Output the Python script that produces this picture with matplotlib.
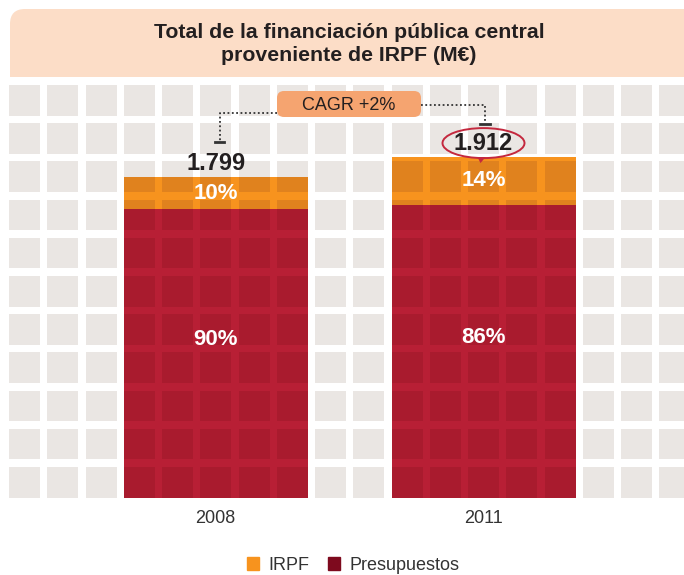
import matplotlib
matplotlib.use("Agg")
import matplotlib.pyplot as plt
from matplotlib.patches import Rectangle, FancyBboxPatch, Ellipse, Polygon, Patch
from matplotlib.collections import PatchCollection
import numpy as np

plt.rcParams['font.family'] = ['Liberation Sans', 'DejaVu Sans']

# ---------------- data ----------------
years = ["2008", "2011"]
totals = [1799, 1912]          # M€
irpf_share = [10, 14]          # %
presu_share = [90, 86]         # %
series_names = ["IRPF", "Presupuestos"]
title_lines = ["Total de la financiación pública central", "proveniente de IRPF (M€)"]

# ---------------- style ----------------
GRAY = "#EAE6E3"
PEACH = "#FCDDC7"
CAGR_BOX = "#F5A470"
RED_LIGHT = "#B81F35"
RED_DARK = "#A91B2E"
OR_LIGHT = "#F7931E"
OR_DARK = "#E0821E"
LEG_RED = "#7E0A1E"
TXT = "#231F20"

W, H = 684, 575
fig = plt.figure(figsize=(W / 100, H / 100), dpi=100)

# background (pixel coordinates)
bg = fig.add_axes([0, 0, 1, 1], zorder=0)
bg.set_xlim(0, W)
bg.set_ylim(H, 0)
bg.axis("off")

# title box with rounded top-left corner
bg.add_patch(FancyBboxPatch((10, 9), 720, 68, boxstyle="round,pad=0,rounding_size=15",
                            fc=PEACH, ec="none"))
bg.add_patch(Rectangle((10, 45), 720, 32, fc=PEACH, ec="none"))
bg.text(349, 38.5, title_lines[0], ha="center", va="baseline", fontsize=15.3,
        fontweight="bold", color=TXT)
bg.text(349, 61, title_lines[1], ha="center", va="baseline", fontsize=15.3,
        fontweight="bold", color=TXT)

# grid of squares
GX0, GPX, GW = 9, 38.25, 31
GY0, GPY, GH = 85, 38.2, 30.5
NCOL, NROW = 18, 11
cells = [(GX0 + c * GPX, GY0 + r * GPY) for r in range(NROW) for c in range(NCOL)]
bg.add_collection(PatchCollection([Rectangle(p, GW, GH) for p in cells],
                                  facecolor=GRAY, edgecolor="none"))

# ---------------- bars axes ----------------
bottom_px, top_px = 497.5, 85
ax = fig.add_axes([GX0 / W, (H - bottom_px) / H, (W - GX0) / W, (bottom_px - top_px) / H], zorder=1)
ax.patch.set_alpha(0)
for s in ax.spines.values():
    s.set_visible(False)
c0, c1 = 215.75, 483.5
upx = c1 - c0
ax.set_xlim(-(c0 - GX0) / upx, 1 + (W - c1) / upx)
ax.set_ylim(0, 2317)
ax.set_yticks([])

x = np.arange(len(years))
tot = np.array(totals, dtype=float)
presu_vals = tot * np.array(presu_share) / 100
irpf_vals = tot * np.array(irpf_share) / 100
bw = 184 / upx
b1 = ax.bar(x, presu_vals, width=bw, color=RED_LIGHT, zorder=2)
b2 = ax.bar(x, irpf_vals, bottom=presu_vals, width=bw, color=OR_LIGHT, zorder=2)

# darker squares inside the bars (grid seen through the bar)
for bars, dark in ((b1, RED_DARK), (b2, OR_DARK)):
    for p in bars:
        coll = PatchCollection([Rectangle(q, GW, GH) for q in cells], facecolor=dark,
                               edgecolor="none", transform=bg.transData, zorder=3)
        ax.add_collection(coll, autolim=False)
        coll.set_clip_path(p)

ax.set_xticks(x)
ax.set_xticklabels(years, fontsize=13, color="#333333")
ax.tick_params(axis="x", length=0, pad=9)

# segment labels
for i in range(len(years)):
    ax.annotate(f"{irpf_share[i]}%", (x[i], presu_vals[i] + irpf_vals[i] / 2),
                ha="center", va="center", color="white", fontsize=16, fontweight="bold", zorder=5)
    ax.annotate(f"{presu_share[i]}%", (x[i], presu_vals[i] / 2), xytext=(0, 14),
                textcoords="offset pixels", ha="center", va="center", color="white",
                fontsize=16, fontweight="bold", zorder=5)

# total labels
lab_px = []
for i in range(len(years)):
    ax.annotate(f"{totals[i]:,}".replace(",", "."), (x[i], totals[i]), xytext=(0, 14),
                textcoords="offset pixels", ha="center", va="center", color=TXT,
                fontsize=17, fontweight="bold", zorder=5, annotation_clip=False)
    d = ax.transData.transform((x[i], totals[i]))
    pxy = bg.transData.inverted().transform(d)
    lab_px.append((pxy[0], pxy[1] - 14))

# red ellipse around latest value
ex, ey = lab_px[1]
ax.add_patch(Ellipse((ex, ey), 82, 30, transform=bg.transData, fill=False, ec="#C4283E",
                     lw=1.4, zorder=6, clip_on=False))
ax.add_patch(Polygon([(ex - 6, ey + 14), (ex + 2, ey + 14), (ex - 3, ey + 20)],
                     closed=True, transform=bg.transData, fc="#C4283E", ec="none",
                     zorder=6, clip_on=False))

# CAGR box and connectors
n_years = int(years[1]) - int(years[0])
cagr = (totals[1] / totals[0]) ** (1 / n_years) - 1
bx0, by0, bx1, by1 = 277, 91, 421, 117
bg.add_patch(FancyBboxPatch((bx0, by0), bx1 - bx0, by1 - by0,
                            boxstyle="round,pad=0,rounding_size=7", fc=CAGR_BOX, ec="none"))
bg.text((bx0 + bx1) / 2, (by0 + by1) / 2 + 1, f"CAGR +{cagr * 100:.0f}%", ha="center",
        va="center", fontsize=13, color=TXT)

dot = dict(color="#333333", lw=1.3, linestyle=(0, (1, 1.4)))
lx = lab_px[0][0] + 4
ly_end = lab_px[0][1] - 22
bg.plot([bx0, lx, lx], [113, 113, ly_end], **dot)
bg.plot([lx - 4.5, lx + 4.5], [ly_end + 1, ly_end + 1], color="#333333", lw=2)
rx = lab_px[1][0] + 1
ry_end = lab_px[1][1] - 20
bg.plot([bx1, rx, rx], [105, 105, ry_end], **dot)
bg.plot([rx - 5, rx + 5], [ry_end + 1, ry_end + 1], color="#333333", lw=2)

# legend
handles = [Patch(color=OR_LIGHT, label=series_names[0]),
           Patch(color=LEG_RED, label=series_names[1])]
fig.legend(handles=handles, loc="center", bbox_to_anchor=(353 / W, 1 - 565 / H), ncol=2,
           frameon=False, fontsize=13, handlelength=0.7, handleheight=0.7,
           handletextpad=0.5, columnspacing=1.0, labelcolor="#333333")

fig.savefig("out.png", dpi=100)
